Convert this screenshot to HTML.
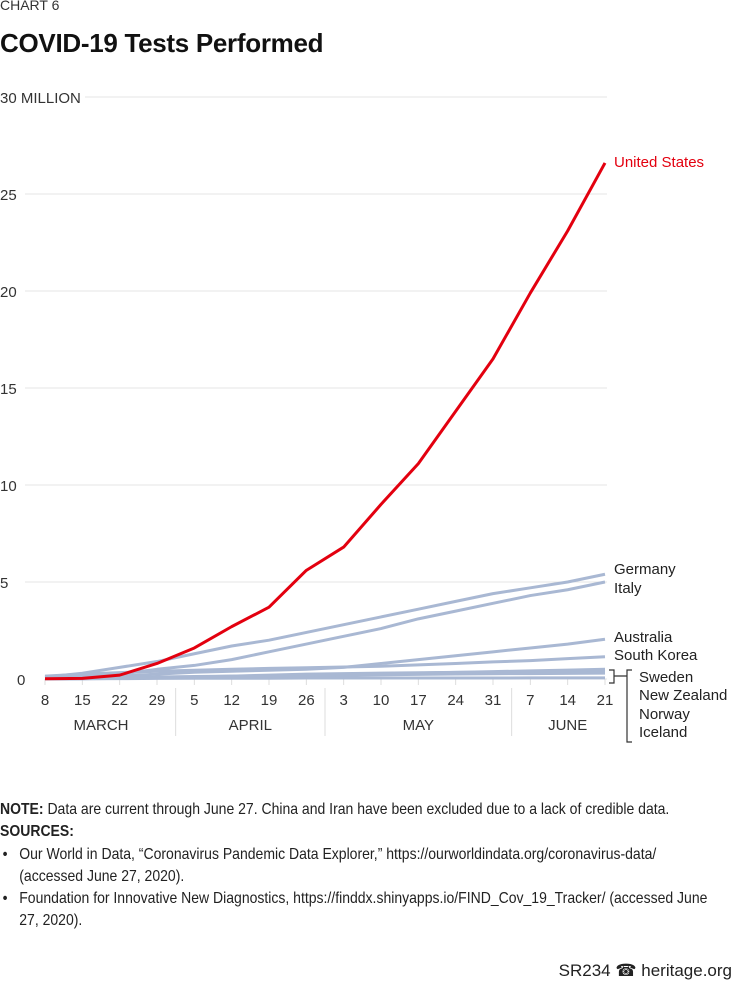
<!DOCTYPE html>
<html><head><meta charset="utf-8"><style>
body{margin:0;background:#fff;width:734px;height:982px;overflow:hidden;font-family:"Liberation Sans",sans-serif;color:#222}
.t{position:absolute;white-space:nowrap}
</style></head><body>
<div class="t" style="left:0;top:-3px;font-size:14px;color:#333">CHART 6</div>
<div class="t" style="left:0;top:28px;font-size:26px;font-weight:bold;color:#111;letter-spacing:-0.3px">COVID-19 Tests Performed</div>
<svg id="chart" width="734" height="760" style="position:absolute;left:0;top:0" font-family="Liberation Sans, sans-serif"></svg>
<div style="position:absolute;left:0;top:799px;width:830px;font-size:16px;line-height:22.3px;transform:scaleX(0.875);transform-origin:0 0">
<div><b>NOTE:</b> Data are current through June 27. China and Iran have been excluded due to a lack of credible data.</div>
<div><b>SOURCES:</b></div>
<div style="padding-left:22px;position:relative"><span style="position:absolute;left:3px">•</span>Our World in Data, “Coronavirus Pandemic Data Explorer,” https://ourworldindata.org/coronavirus-data/<br>(accessed June 27, 2020).</div>
<div style="padding-left:22px;position:relative"><span style="position:absolute;left:3px">•</span>Foundation for Innovative New Diagnostics, https://finddx.shinyapps.io/FIND_Cov_19_Tracker/ (accessed June<br>27, 2020).</div>
</div>
<div class="t" style="right:2px;top:961px;font-size:17px">SR234 ☎ heritage.org</div>
<script>
const dates=["8","15","22","29","5","12","19","26","3","10","17","24","31","7","14","21"];
const yTicks=[0,5,10,15,20,25,30];
const us=[0.01,0.03,0.2,0.8,1.6,2.7,3.7,5.6,6.8,9.0,11.1,13.8,16.5,19.9,23.1,26.6];
const germany=[0.1,0.3,0.6,0.9,1.3,1.7,2.0,2.4,2.8,3.2,3.6,4.0,4.4,4.7,5.0,5.4];
const italy=[0.05,0.15,0.25,0.5,0.7,1.0,1.4,1.8,2.2,2.6,3.1,3.5,3.9,4.3,4.6,5.0];
const australia=[0.01,0.05,0.15,0.25,0.35,0.4,0.45,0.5,0.6,0.8,1.0,1.2,1.4,1.6,1.8,2.05];
const southKorea=[0.15,0.25,0.33,0.4,0.45,0.5,0.55,0.58,0.62,0.66,0.73,0.8,0.88,0.95,1.05,1.15];
const sweden=[0.01,0.02,0.05,0.08,0.1,0.13,0.16,0.2,0.24,0.28,0.3,0.34,0.38,0.42,0.46,0.5];
const newZealand=[0.0,0.01,0.03,0.05,0.1,0.15,0.2,0.25,0.28,0.3,0.32,0.34,0.35,0.36,0.37,0.38];
const norway=[0.01,0.03,0.06,0.1,0.13,0.15,0.17,0.19,0.2,0.22,0.24,0.26,0.27,0.28,0.29,0.3];
const iceland=[0.0,0.01,0.02,0.03,0.04,0.04,0.04,0.05,0.05,0.05,0.05,0.05,0.05,0.06,0.06,0.06];
const months=[["MARCH",0,3],["APRIL",4,7],["MAY",8,12],["JUNE",13,15]];
const NS="http://www.w3.org/2000/svg",svg=document.getElementById('chart');
const x=i=>45+i*(560/(dates.length-1));
const y=v=>679-v*(582/30);
function mk(t,a,p){const e=document.createElementNS(NS,t);for(const k in a)e.setAttribute(k,a[k]);(p||svg).appendChild(e);return e;}
yTicks.forEach(v=>{const g=mk('g',{});


mk('line',{x1:v==0?75:(v==30?85:25),x2:607,y1:y(v),y2:y(v),stroke:'#e4e4e4','stroke-width':1},g);
const t=mk('text',{x:v==0?17:0,y:y(v)+6,'font-size':15,fill:'#333'},g);t.textContent=v==30?'30 MILLION':v;

});
dates.forEach((d,i)=>{const t=mk('text',{x:x(i),y:705,'font-size':15,fill:'#333','text-anchor':'middle'});t.textContent=d;


mk('line',{x1:x(i),x2:x(i),y1:679,y2:685,stroke:'#ddd'});});
months.forEach((m,k)=>{const t=mk('text',{x:(x(m[1])+x(m[2]))/2,y:730,'font-size':15,fill:'#333','text-anchor':'middle'});t.textContent=m[0];


if(k>0){const xs=(x(m[1]-1)+x(m[1]))/2;mk('line',{x1:xs,x2:xs,y1:688,y2:736,stroke:'#ddd'});}});
function line(arr,col,w,name){const p=mk('polyline',{points:arr.map((v,i)=>x(i)+','+y(v)).join(' '),fill:'none',stroke:col,'stroke-width':w,'stroke-linejoin':'round'});

}
line(iceland,'#a9b8d3',3,'line-iceland');line(norway,'#a9b8d3',3,'line-norway');line(newZealand,'#a9b8d3',3,'line-new-zealand');line(sweden,'#a9b8d3',3,'line-sweden');
line(southKorea,'#a9b8d3',3,'line-south-korea');line(australia,'#a9b8d3',3,'line-australia');line(italy,'#a9b8d3',3,'line-italy');line(germany,'#a9b8d3',3,'line-germany');
line(us,'#e3000f',3,'line-united-states');
function lab(txt,yy,col,name){const t=mk('text',{x:614,y:yy,'font-size':15,fill:col});t.textContent=txt;

}
lab('United States',y(us[15])+4,'#e3000f','label-united-states');
lab('Germany',574,'#222','label-germany');lab('Italy',593,'#222','label-italy');
lab('Australia',642,'#222','label-australia');lab('South Korea',660,'#222','label-south-korea');
[['Sweden',682],['New Zealand',700],['Norway',719],['Iceland',737]].forEach(a=>{const t=mk('text',{x:639,y:a[1],'font-size':15,fill:'#222'});t.textContent=a[0];

});
mk('path',{d:'M609 670 H614 V683 H609 M614 676 H627 M632 670 H627 V742 H632',fill:'none',stroke:'#333','stroke-width':1.2});
</script>
</body></html>
